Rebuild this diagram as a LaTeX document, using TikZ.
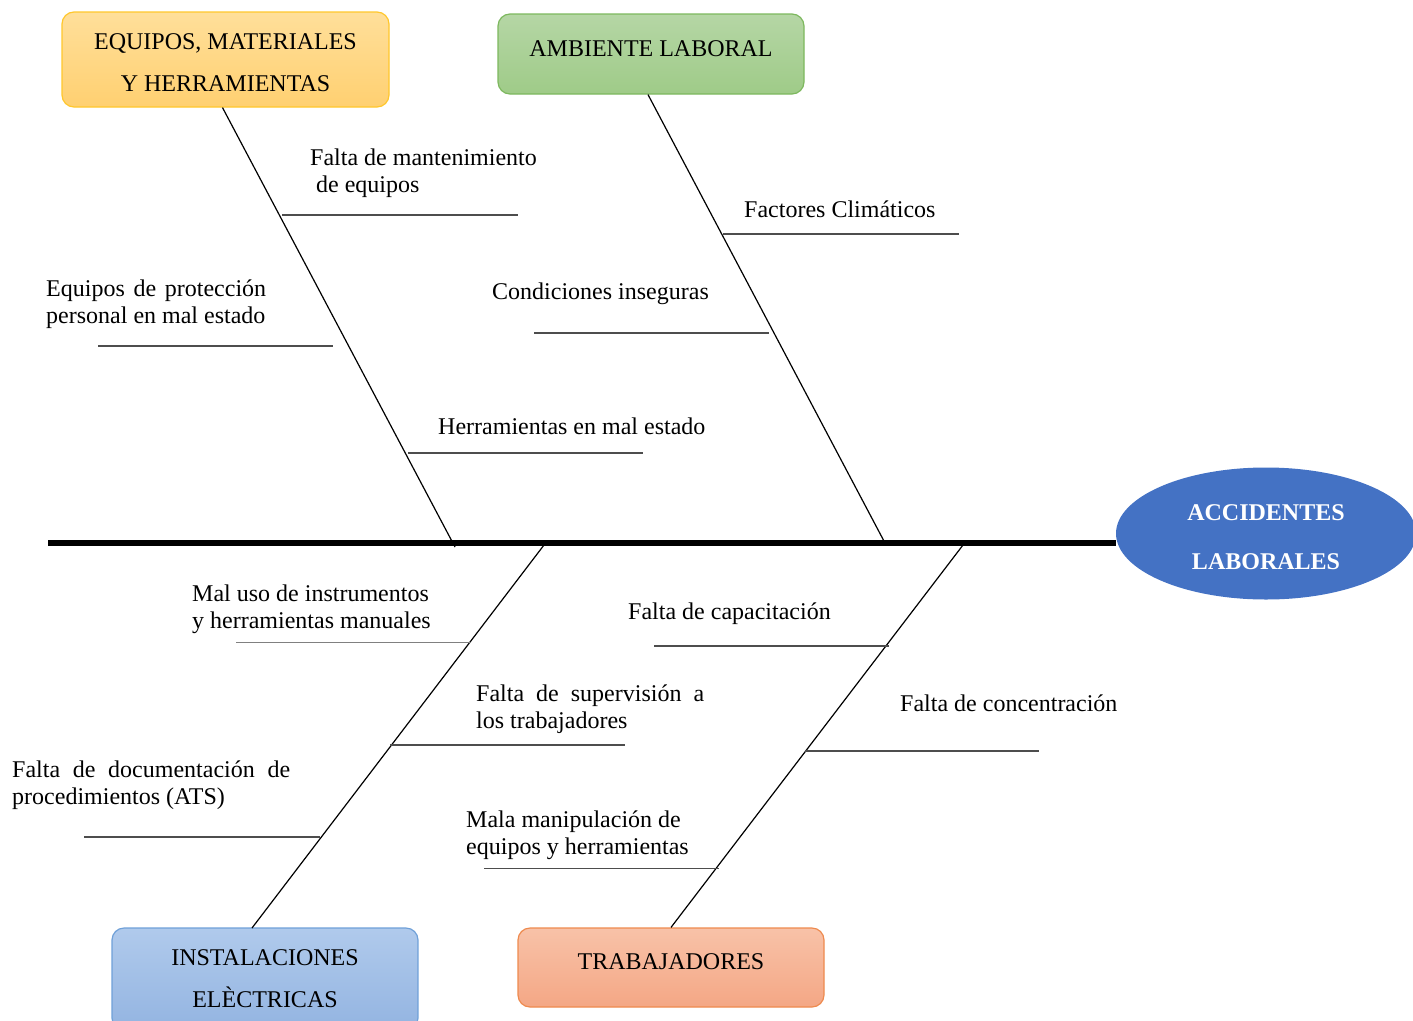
\documentclass[tikz,border=0pt]{standalone}
\usepackage{fontspec}
\setmainfont{Liberation Serif}
\usetikzlibrary{shapes.geometric}
\definecolor{eqtop}{HTML}{FFDF9A}
\definecolor{eqbot}{HTML}{FFD071}
\definecolor{eqbrd}{HTML}{FFC72C}
\definecolor{amtop}{HTML}{B5D6A5}
\definecolor{ambot}{HTML}{9FCB88}
\definecolor{ambrd}{HTML}{7DB85E}
\definecolor{intop}{HTML}{B0CAEC}
\definecolor{inbot}{HTML}{93B4E1}
\definecolor{inbrd}{HTML}{6FA0D8}
\definecolor{trtop}{HTML}{F8C2A8}
\definecolor{trbot}{HTML}{F4A785}
\definecolor{trbrd}{HTML}{EE8A4E}
\definecolor{accfill}{HTML}{4472C4}
\definecolor{subline}{HTML}{4D4D4D}
\tikzset{
  catbox/.style={rounded corners=12pt, line width=1.2pt, inner sep=0pt, align=center,
    font=\fontsize{24}{42}\selectfont},
  onelinebox/.style={catbox, text height=16pt, text depth=12pt},
  causetext/.style={anchor=base west, inner sep=0pt, align=left,
    font=\fontsize{24}{27}\selectfont},
  bone/.style={line width=1.2pt, black},
  subbone/.style={line width=1.8pt, subline},
  thinbone/.style={line width=1pt, gray},
  spine/.style={line width=6pt, black}
}
\begin{document}
\begin{tikzpicture}[x=1pt,y=-1pt]
\useasboundingbox (0,0) rectangle (1413,1020);
% category boxes
\node[catbox, draw=eqbrd, top color=eqtop, bottom color=eqbot,
  minimum width=327pt, minimum height=95pt] (eq) at (225.5,59.5)
  {\rule{0pt}{22pt}EQUIPOS, MATERIALES\\Y HERRAMIENTAS};
\node[onelinebox, draw=ambrd, top color=amtop, bottom color=ambot,
  minimum width=306pt, minimum height=80pt] (amb) at (651,54)
  {AMBIENTE LABORAL};
\node[catbox, draw=inbrd, top color=intop, bottom color=inbot,
  minimum width=306pt, minimum height=102pt] (inst) at (265,979)
  {INSTALACIONES\\ELÈCTRICAS};
\node[onelinebox, draw=trbrd, top color=trtop, bottom color=trbot,
  minimum width=306pt, minimum height=79pt] (trab) at (671,967.5)
  {TRABAJADORES};
% effect
\node[ellipse, fill=accfill, text=white, inner sep=0pt, minimum width=300pt,
  minimum height=132pt, align=center, font=\fontsize{24}{49}\selectfont\bfseries]
  (acc) at (1266,533.5) {\rule{0pt}{24pt}ACCIDENTES\\LABORALES};
% spine
\coordinate (spL) at (48,543);
\draw[spine] (spL) -- (spL -| acc.west);
% main bones
\coordinate (eqS) at (455,547);
\coordinate (amS) at (885,543);
\coordinate (inS) at (544,545);
\coordinate (trS) at (963,545);
\coordinate (inE) at (252,928);
\draw[bone] ([xshift=-3pt]eq.south) -- (eqS);
\draw[bone] ([xshift=-3pt]amb.south) -- (amS);
\draw[bone] (inS) -- (inE);
\draw[bone] (trS) -- (trab.north);
% sub bones
\coordinate (a1) at (282,215); \coordinate (a2) at (518,215);
\coordinate (b1) at (98,346);  \coordinate (b2) at (333,346);
\coordinate (c1) at (408,453); \coordinate (c2) at (643,453);
\coordinate (d1) at (723,234); \coordinate (d2) at (959,234);
\coordinate (e1) at (534,333); \coordinate (e2) at (769,333);
\coordinate (f1) at (236,642); \coordinate (f2) at (470,642);
\coordinate (g1) at (654,646); \coordinate (g2) at (889,646);
\coordinate (h1) at (390,745); \coordinate (h2) at (625,745);
\coordinate (i1) at (805,751); \coordinate (i2) at (1039,751);
\coordinate (j1) at (84,837);  \coordinate (j2) at (320,837);
\coordinate (k1) at (484,868); \coordinate (k2) at (719,868);
\draw[subbone] (a1) -- (a2);
\draw[subbone] (b1) -- (b2);
\draw[subbone] (c1) -- (c2);
\draw[subbone] (d1) -- (d2);
\draw[subbone] (e1) -- (e2);
\draw[thinbone] (f1) -- (f2);
\draw[subbone] (g1) -- (g2);
\draw[subbone] (h1) -- (h2);
\draw[subbone] (i1) -- (i2);
\draw[subbone] (j1) -- (j2);
\draw[line width=1pt, subline] (k1) -- (k2);
% cause texts (multi-line: base = last line)
\node[causetext] (t1) at (310,192) {Falta de mantenimiento\\\hspace*{6pt}de equipos};
\node[causetext] (t2) at (46,323) {\makebox[220pt][s]{Equipos de protección}\\personal en mal estado};
\node[causetext] (t3) at (438,434) {Herramientas en mal estado};
\node[causetext] (t4) at (744,217) {Factores Climáticos};
\node[causetext] (t5) at (492,299) {Condiciones inseguras};
\node[causetext] (t6) at (192,628) {Mal uso de instrumentos\\y herramientas manuales};
\node[causetext] (t7) at (628,619) {Falta de capacitación};
\node[causetext] (t8) at (476,728) {\makebox[228pt][s]{Falta de supervisión a}\\los trabajadores};
\node[causetext] (t9) at (900,711) {Falta de concentración};
\node[causetext] (t10) at (12,804) {\makebox[278pt][s]{Falta de documentación de}\\procedimientos (ATS)};
\node[causetext] (t11) at (466,854) {Mala manipulación de\\equipos y herramientas};
\end{tikzpicture}
\end{document}
